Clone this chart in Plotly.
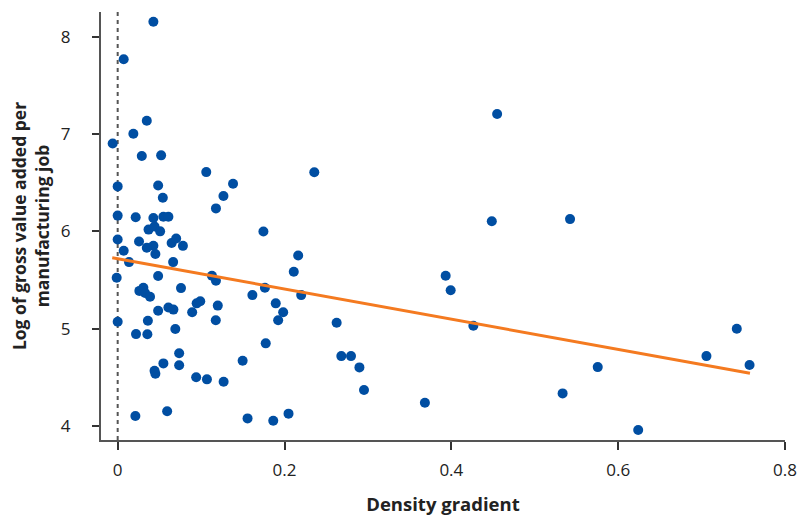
import plotly.graph_objects as go

# Density gradient vs log of gross value added per manufacturing job
density_gradient = [
    0.0428, 0.0072, 0.0349, 0.0188, -0.0060, 0.0289, 0.0521, 0.1062, 0.2357, 0.0000,
    0.0485, 0.1383, 0.0541, 0.1268, 0.1178, 0.0000, 0.0216, 0.0428, 0.0548, 0.0608,
    0.0370, 0.0442, 0.0509, 0.1747, 0.0000, 0.0256, 0.0428, 0.0349, 0.0647, 0.0701,
    0.0782, 0.0072, 0.0452, 0.2164, 0.0136, 0.0665, -0.0012, 0.0485, 0.1130, 0.1178,
    0.2111, 0.3932, 0.0308, 0.0260, 0.0328, 0.0388, 0.0759, 0.1765, 0.1615, 0.2200,
    0.3992, 0.1895, 0.1984, 0.1924, 0.0485, 0.0608, 0.0668, 0.0893, 0.0947, 0.0990,
    0.1200, 0.1176, 0.0000, 0.0362, 0.2625, 0.4264, 0.0220, 0.0356, 0.0691, 0.1775,
    0.0737, 0.0548, 0.0737, 0.0442, 0.0452, 0.0941, 0.1070, 0.1270, 0.1498, 0.2681,
    0.2797, 0.2898, 0.2953, 0.3683, 0.0212, 0.0593, 0.1557, 0.1865, 0.2048, 0.4549,
    0.4485, 0.5423, 0.5334, 0.5755, 0.6240, 0.7422, 0.7058, 0.7575,
]
log_gva_per_job = [
    8.154, 7.768, 7.137, 7.003, 6.902, 6.774, 6.781, 6.609, 6.607, 6.462,
    6.471, 6.489, 6.345, 6.363, 6.236, 6.162, 6.145, 6.137, 6.150, 6.150,
    6.018, 6.049, 6.000, 5.998, 5.916, 5.895, 5.852, 5.831, 5.880, 5.926,
    5.851, 5.801, 5.767, 5.751, 5.684, 5.684, 5.523, 5.541, 5.543, 5.492,
    5.585, 5.544, 5.420, 5.388, 5.366, 5.328, 5.417, 5.420, 5.345, 5.345,
    5.394, 5.260, 5.169, 5.086, 5.184, 5.217, 5.196, 5.169, 5.260, 5.282,
    5.237, 5.086, 5.071, 5.081, 5.061, 5.030, 4.944, 4.942, 4.996, 4.849,
    4.747, 4.643, 4.624, 4.567, 4.536, 4.500, 4.479, 4.454, 4.670, 4.718,
    4.718, 4.602, 4.369, 4.238, 4.102, 4.151, 4.078, 4.053, 4.127, 7.206,
    6.103, 6.126, 4.335, 4.605, 3.958, 4.999, 4.718, 4.626,
]

# Fitted linear trend (end points)
fit_x = [-0.0065, 0.758]
fit_y = [5.729, 4.541]

x_ticks = [0, 0.2, 0.4, 0.6, 0.8]
x_tick_labels = ["0", "0.2", "0.4", "0.6", "0.8"]
y_ticks = [4, 5, 6, 7, 8]

BLUE = "#004ea2"
ORANGE = "#f47a20"
AXIS = "#555555"
TEXT = "#222222"
FONT = "Open Sans"

fig = go.Figure()

fig.add_trace(go.Scatter(
    x=density_gradient, y=log_gva_per_job, mode="markers",
    marker=dict(color=BLUE, size=10, line=dict(width=0)),
    hoverinfo="skip", showlegend=False,
))

fig.add_trace(go.Scatter(
    x=fit_x, y=fit_y, mode="lines",
    line=dict(color=ORANGE, width=3),
    hoverinfo="skip", showlegend=False,
))

# Reference line at zero gradient
fig.add_shape(
    type="line", xref="x", yref="paper", x0=0, x1=0, y0=0, y1=1,
    line=dict(color=AXIS, width=2, dash="4px,4px"), layer="below",
)

fig.update_layout(
    width=797, height=517,
    margin=dict(l=101, r=12, t=12, b=77),
    plot_bgcolor="white", paper_bgcolor="white",
    font=dict(family=FONT, size=17, color=TEXT),
    xaxis=dict(
        range=[-0.02, 0.8], tickvals=x_ticks, ticktext=x_tick_labels,
        showgrid=False, zeroline=False, showline=True, linecolor=AXIS, linewidth=1.5,
        ticks="outside", ticklen=8, tickwidth=1.5, tickcolor="#333333",
        ticklabelstandoff=6, automargin=False,
        tickfont=dict(family=FONT, size=17, color=TEXT),
        title=dict(text="<b>Density gradient</b>", standoff=18,
                   font=dict(family=FONT, size=18.5, color=TEXT)),
    ),
    yaxis=dict(
        range=[3.856, 8.254], tickvals=y_ticks,
        showgrid=False, zeroline=False, showline=True, linecolor=AXIS, linewidth=2,
        ticks="outside", ticklen=7, tickwidth=1.5, tickcolor="#333333",
        ticklabelstandoff=18, automargin=False,
        tickfont=dict(family=FONT, size=17, color=TEXT),
        title=dict(text="<b>Log of gross value added per<br>manufacturing job</b>", standoff=7,
                   font=dict(family=FONT, size=17.5, color=TEXT)),
    ),
)

fig.write_html("out.html")
